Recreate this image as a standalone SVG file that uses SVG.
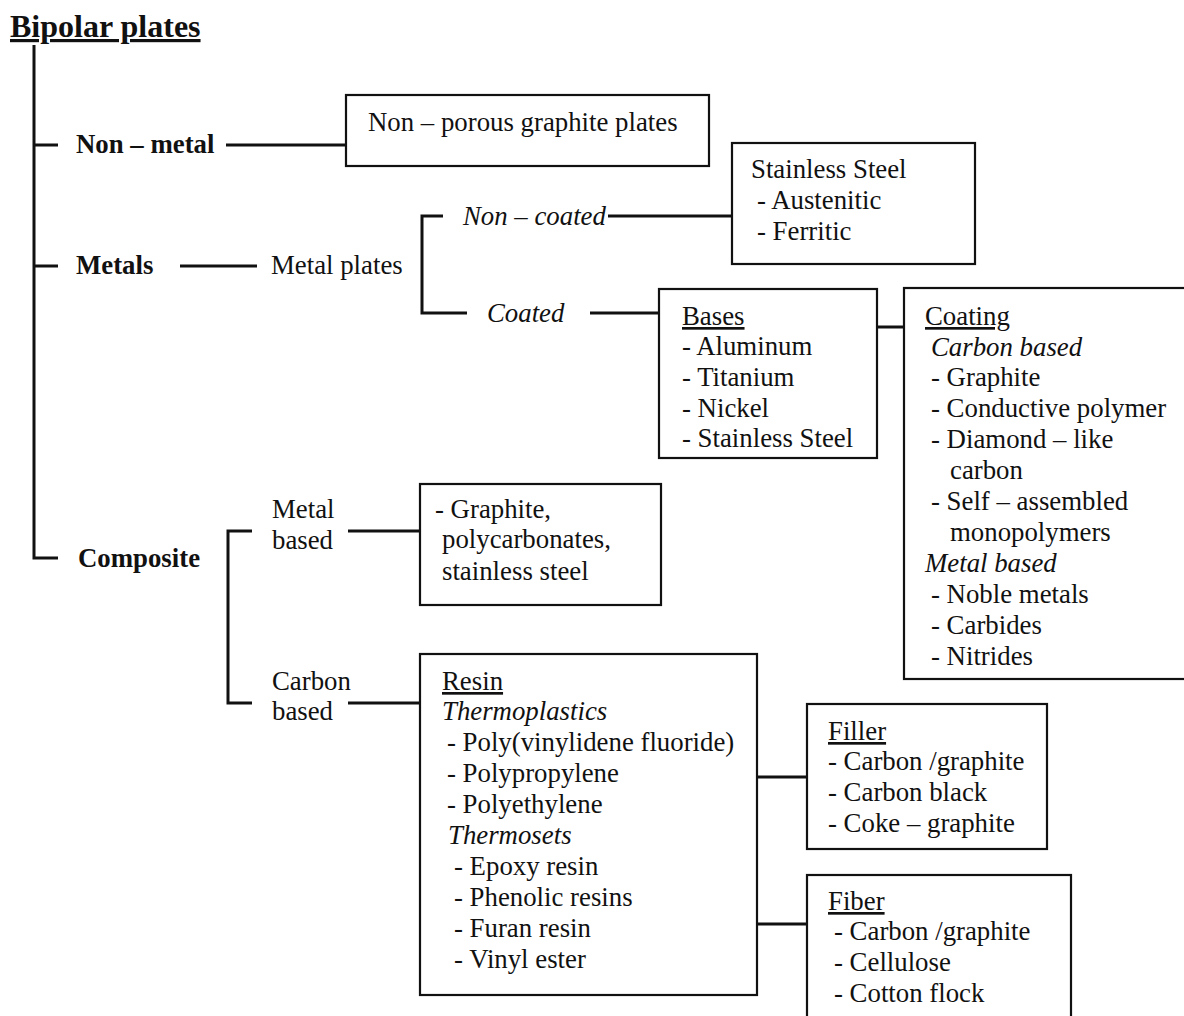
<svg xmlns="http://www.w3.org/2000/svg" width="1184" height="1016" viewBox="0 0 1184 1016" font-family="'Liberation Serif', 'Times New Roman', serif">
<style>
text{font-family:'Liberation Serif','Times New Roman',serif;font-size:26.8px;fill:#111}
.b{font-weight:bold}
.i{font-style:italic}
.u{text-decoration:underline}
.box{fill:none;stroke:#111;stroke-width:2.2}
.c{fill:none;stroke:#111;stroke-width:3}
</style>
<rect width="1184" height="1016" fill="#fff"/>
<text x="10" y="37" class="b u" style="font-size:32px">Bipolar plates</text>
<g id="connectors">
<path class="c" d="M34 45V558H58M34 145H58M34 266H58"/>
<path class="c" d="M226 145H346"/>
<path class="c" d="M180 266H257"/>
<path class="c" d="M443 216H422V313H467"/>
<path class="c" d="M608 216H732"/>
<path class="c" d="M590 313H659"/>
<path class="c" d="M877 327H904"/>
<path class="c" d="M252 531H228V703H252"/>
<path class="c" d="M348 531H420"/>
<path class="c" d="M348 703H420"/>
<path class="c" d="M757 777H807"/>
<path class="c" d="M757 924H807"/>
</g>
<g id="nonmetal"><text x="76" y="153" class="b">Non – metal</text></g>
<g id="metals"><text x="76" y="274" class="b">Metals</text></g>
<g id="composite"><text x="78" y="567" class="b">Composite</text></g>
<g id="metalplates"><text x="271" y="274">Metal plates</text></g>
<g id="noncoated"><text x="463" y="225" class="i">Non – coated</text></g>
<g id="coated"><text x="487" y="322" class="i">Coated</text></g>
<g id="graphiteplates">
<rect class="box" x="346" y="95" width="363" height="71"/>
<text x="368" y="131">Non – porous graphite plates</text>
</g>
<g id="stainless">
<rect class="box" x="732" y="143" width="243" height="121"/>
<text x="751" y="178">Stainless Steel</text>
<text x="757" y="209">- Austenitic</text>
<text x="757" y="240">- Ferritic</text>
</g>
<g id="bases">
<rect class="box" x="659" y="289" width="218" height="169"/>
<text x="682" y="325" class="u">Bases</text>
<text x="682" y="355">- Aluminum</text>
<text x="682" y="386">- Titanium</text>
<text x="682" y="417">- Nickel</text>
<text x="682" y="447">- Stainless Steel</text>
</g>
<g id="coating">
<rect class="box" x="904" y="288" width="290" height="391"/>
<text x="925" y="325" class="u">Coating</text>
<text x="931" y="356" class="i">Carbon based</text>
<text x="931" y="386">- Graphite</text>
<text x="931" y="417">- Conductive polymer</text>
<text x="931" y="448">- Diamond – like</text>
<text x="950" y="479">carbon</text>
<text x="931" y="510">- Self – assembled</text>
<text x="950" y="541">monopolymers</text>
<text x="925" y="572" class="i">Metal based</text>
<text x="931" y="603">- Noble metals</text>
<text x="931" y="634">- Carbides</text>
<text x="931" y="665">- Nitrides</text>
</g>
<g id="metalbased">
<text x="272" y="518">Metal</text>
<text x="272" y="549">based</text>
</g>
<g id="metalbasedbox">
<rect class="box" x="420" y="484" width="241" height="121"/>
<text x="435" y="518">- Graphite,</text>
<text x="442" y="548">polycarbonates,</text>
<text x="442" y="580">stainless steel</text>
</g>
<g id="carbonbased">
<text x="272" y="690">Carbon</text>
<text x="272" y="720">based</text>
</g>
<g id="resin">
<rect class="box" x="420" y="654" width="337" height="341"/>
<text x="442" y="690" class="u">Resin</text>
<text x="442" y="720" class="i">Thermoplastics</text>
<text x="447" y="751">- Poly(vinylidene fluoride)</text>
<text x="447" y="782">- Polypropylene</text>
<text x="447" y="813">- Polyethylene</text>
<text x="448" y="844" class="i">Thermosets</text>
<text x="454" y="875">- Epoxy resin</text>
<text x="454" y="906">- Phenolic resins</text>
<text x="454" y="937">- Furan resin</text>
<text x="454" y="968">- Vinyl ester</text>
</g>
<g id="filler">
<rect class="box" x="807" y="704" width="240" height="145"/>
<text x="828" y="740" class="u">Filler</text>
<text x="828" y="770">- Carbon /graphite</text>
<text x="828" y="801">- Carbon black</text>
<text x="828" y="832">- Coke – graphite</text>
</g>
<g id="fiber">
<rect class="box" x="807" y="875" width="264" height="150"/>
<text x="828" y="910" class="u">Fiber</text>
<text x="834" y="940">- Carbon /graphite</text>
<text x="834" y="971">- Cellulose</text>
<text x="834" y="1002">- Cotton flock</text>
</g>
</svg>
